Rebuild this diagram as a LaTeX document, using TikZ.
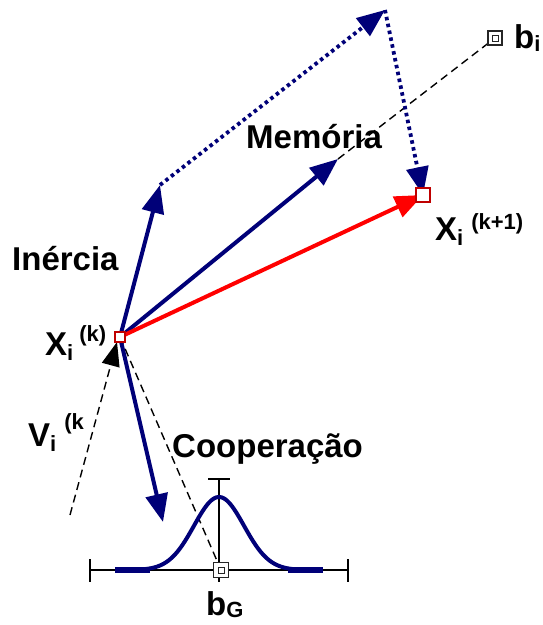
\documentclass[tikz,border=0pt]{standalone}
\usepackage{fontspec}
\setmainfont{Liberation Sans}
\usetikzlibrary{arrows.meta,calc}
\definecolor{navyb}{RGB}{0,0,120}
\newcommand\mysub[2][5pt]{\raisebox{-#1}{\fontsize{22}{22}\selectfont #2}}
\newcommand\mysup[2][14pt]{\raisebox{#1}{\fontsize{22}{22}\selectfont #2}}
\begin{document}
\begin{tikzpicture}[x=1pt,y=-1pt,
  lbl/.style={font=\fontsize{33}{38}\selectfont\bfseries, inner sep=0pt, anchor=base west},
  vec/.style={navyb, line width=4pt, -{Triangle[length=28pt,width=22pt]}},
  redvec/.style={red, line width=4pt, -{Triangle[length=28pt,width=22pt]}},
  dotv/.style={navyb, line width=3.8pt, dash pattern=on 3.5pt off 3.5pt, -{Triangle[length=28pt,width=22pt]}},
  guide/.style={black, line width=1.4pt, dash pattern=on 8pt off 5pt},
  vguide/.style={black, line width=1.4pt, dash pattern=on 8pt off 5pt, -{Triangle[length=24pt,width=18pt]}},
  pt/.style={draw=black!85, fill=white, line width=1.8pt, minimum size=14pt, inner sep=0pt},
  ptred/.style={draw=red!75!black, fill=white, line width=1.8pt, minimum size=14pt, inner sep=0pt},
  axis/.style={black, line width=1.2pt}]
\useasboundingbox (0,0) rectangle (542,625);

% key points
\coordinate (inert) at (160,185);
\coordinate (mem) at (338,159);
\coordinate (top) at (385,10);
\coordinate (coop) at (163,522);
\coordinate (vstart) at (70,515);
\coordinate (vtip) at (117,342);
\coordinate (xkc) at (120,337);
\coordinate (xk1c) at (423,195);
\coordinate (bic) at (495,38);
\coordinate (bgc) at (221,570);

% guide lines
\draw[guide] (mem) -- (bic);
\draw[guide] (xkc) -- (bgc);
\draw[vguide] (vstart) -- (vtip);

% axis and gaussian
\draw[axis] (90,570) -- (348,570);
\draw[axis] (90,559) -- (90,582);
\draw[axis] (348,559) -- (348,582);
\draw[axis] (219,479) -- (219,582);
\draw[axis] (208,479) -- (230,479);
\draw[navyb, line width=6pt] (115,570) -- (150,570);
\draw[navyb, line width=6pt] (288,570) -- (323,570);
\draw[navyb, line width=4pt] plot[domain=140:298, samples=90] (\x, {570-73*exp(-((\x-219)^2)/1250)});

% dotted parallelogram
\draw[dotv] (inert) -- (top);
\draw[dotv] (top) -- (xk1c);

% vectors
\draw[vec] (xkc) -- (inert);
\draw[vec] (xkc) -- (mem);
\draw[vec] (xkc) -- (coop);
\draw[redvec] (xkc) -- (xk1c);

% points
\node[ptred, minimum size=10pt] (xk) at (xkc) {};
\node[ptred] (xk1) at (xk1c) {};
\node[pt] (bi) at (bic) {};
\node[pt, minimum size=15pt] (bg) at (bgc) {};
\foreach \n in {bi,bg}{
  \draw[line width=0.8pt, black!85] ($(\n.center)+(-3,-3)$) rectangle ($(\n.center)+(3,3)$);
}

% labels
\node[lbl] (tin) at (12,270) {Inércia};
\node[lbl] (tme) at (246,148) {Memória};
\node[lbl] (tco) at (172,457) {Cooperação};
\node[lbl] (txk) at (45,355) {X\mysub{i}\hspace{6pt}\mysup[14pt]{(k)}};
\node[lbl] (tv) at (28,446) {V\mysub{i}\hspace{8pt}\mysup[17pt]{(k}};
\node[lbl] (txk1) at (435,240) {X\mysub{i}\hspace{8pt}\mysup[11pt]{(k+1)}};
\node[lbl] (tbi) at (514,48) {b\mysub[3pt]{i}};
\node[lbl] (tbg) at (206,615) {b\mysub[2pt]{G}};
\end{tikzpicture}
\end{document}
